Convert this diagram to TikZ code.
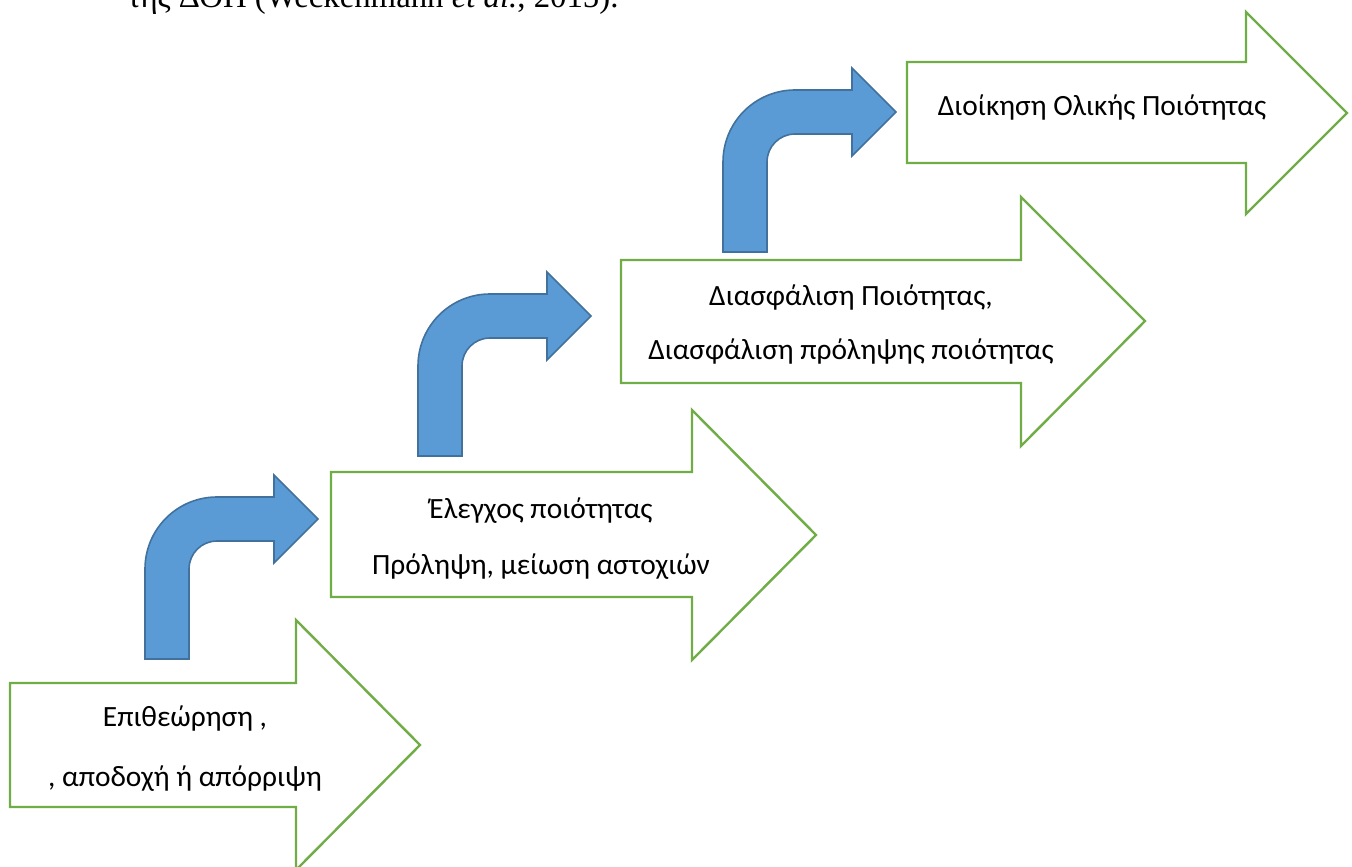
\documentclass[tikz,border=0pt]{standalone}
\usepackage{fontspec}
\setmainfont{Carlito}
\newfontfamily\bodyserif{Liberation Serif}
\definecolor{stepgreen}{HTML}{70AD47}
\definecolor{bendfill}{HTML}{5B9BD5}
\definecolor{benddraw}{HTML}{41719C}
\tikzset{
  stage/.style={draw=stepgreen, line width=1.2pt, fill=white, line join=miter},
  bendshape/.style={fill=bendfill, draw=benddraw, line width=0.8pt, line join=miter},
  label/.style={anchor=base, inner sep=0pt, font=\fontsize{14.7}{17}\selectfont},
  % curved arrow rising from a stage and turning right into the next one
  bentup/.pic={
    \draw[bendshape] (0,0) -- (0,-90)
      .. controls (0,-129.8) and (32.2,-162) .. (72,-162)
      -- (129,-162) -- (129,-184) -- (173,-140) -- (129,-96) -- (129,-118)
      -- (72,-118)
      .. controls (56.5,-118) and (44,-105.5) .. (44,-90)
      -- (44,0) -- cycle;
  }
}
\begin{document}
\begin{tikzpicture}[x=0.5pt, y=-0.5pt]
\useasboundingbox (0,0) rectangle (1352,866);
\clip (0,0) rectangle (1352,866);

% running text line above the figure
\node[anchor=base west, inner sep=0pt, font=\bodyserif\fontsize{16.4}{19}\selectfont]
  (cite) at (127,8) {της ΔΟΠ (Weckenmann \textit{et al.}, 2015).};

% four stages, as block arrows climbing to the right
\draw[stage] (10,683) -- (296,683) -- (296,620) -- (420,745) -- (296,870)
  -- (296,807) -- (10,807) -- cycle;
\draw[stage] (331,472) -- (692,472) -- (692,410) -- (816,535) -- (692,660)
  -- (692,597) -- (331,597) -- cycle;
\draw[stage] (621,260) -- (1021,260) -- (1021,197) -- (1145,321) -- (1021,446)
  -- (1021,383) -- (621,383) -- cycle;
\draw[stage] (907,62) -- (1246,62) -- (1246,12) -- (1347,113) -- (1246,214)
  -- (1246,163) -- (907,163) -- cycle;

% transitions between stages
\pic at (145,659) {bentup};
\pic at (418,456) {bentup};
\pic at (723,252) {bentup};

% stage labels
\node[label] (s1a) at (185,726) {Επιθεώρηση ,};
\node[label] (s1b) at (185,786) {, αποδοχή ή απόρριψη};
\node[label] (s2a) at (541,518) {Έλεγχος ποιότητας};
\node[label] (s2b) at (541,574) {Πρόληψη, μείωση αστοχιών};
\node[label] (s3a) at (851,305) {Διασφάλιση Ποιότητας,};
\node[label] (s3b) at (851,359) {Διασφάλιση πρόληψης ποιότητας};
\node[label] (s4) at (1102,116) {Διοίκηση Ολικής Ποιότητας};
\end{tikzpicture}
\end{document}
